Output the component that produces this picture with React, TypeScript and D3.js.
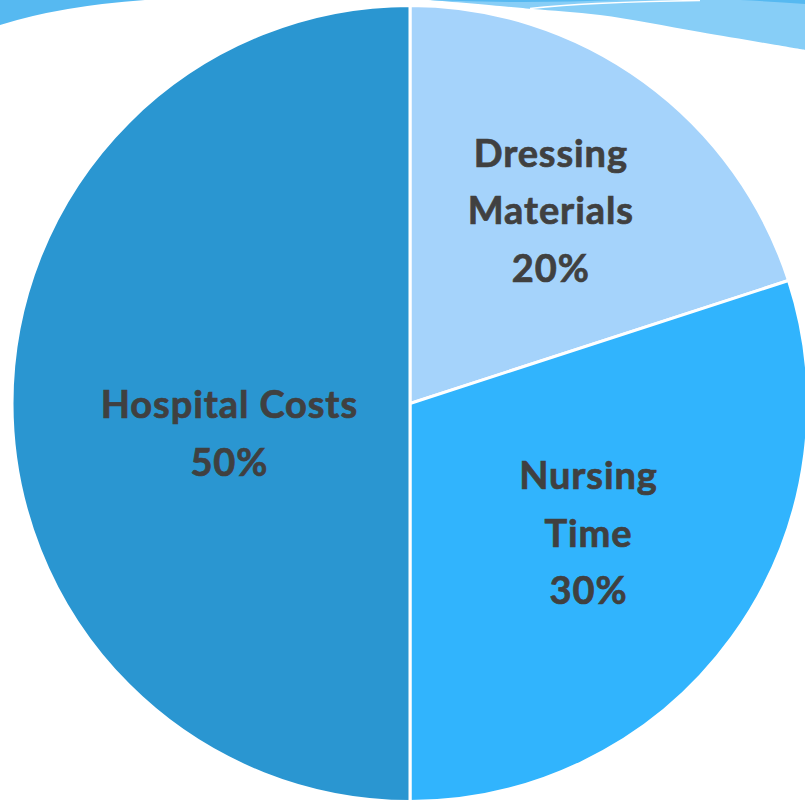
import React from "react";
import * as d3 from "d3";

const categories = ["Dressing Materials", "Nursing Time", "Hospital Costs"];
const labelLines = [["Dressing", "Materials"], ["Nursing", "Time"], ["Hospital Costs"]];
const values = [20, 30, 50];

const colors = ["#A5D3FB", "#31B4FD", "#2A96D1"];
// radial placement factor and vertical nudge for each label (layout only)
const labelRadius = [0.6, 0.553, 0.455];
const labelNudgeY = [0, 0, 30];

const W = 805;
const H = 802;
const CX = 410;
const CY = 403.5;
const R = 398;
const FONT = 38;
const LINE = 57.5;
const SPACING = 0.9;

export default function App() {
  const pie = d3.pie<number>().sort(null).startAngle(0).endAngle(2 * Math.PI);
  const arcs = pie(values);
  const arc = d3.arc<d3.PieArcDatum<number>>().innerRadius(0).outerRadius(R);
  const total = d3.sum(values);

  const lowerEdge: [number, number][] = [
    [430, 0], [500, 6], [533, 9], [600, 15], [700, 32], [805, 50],
  ];
  const lowerPath = d3.line().curve(d3.curveCatmullRom)(lowerEdge) as string;

  return (
    <svg width={W} height={H} style={{ position: "absolute", left: 0, top: 0 }}>
      <rect width={W} height={H} fill="#fff" />
      <path d="M0,0 L145,0 Q60,6 0,25 Z" fill="#56B9F1" />
      <path d={`${lowerPath} L805,0 L430,0 Z`} fill="#87CEF7" />
      <path d="M428,0 L620,0 Q520,4 428,0 Z" fill="#56B9F1" />
      <path d="M740,0 L805,0 L805,4 Q770,1.5 740,0 Z" fill="#56B9F1" />
      <path d="M530,8.5 Q590,2 700,0.5" fill="none" stroke="#fff" strokeWidth={1.5} />
      <g transform={`translate(${CX},${CY})`}>
        {arcs.map((a, i) => (
          <path key={categories[i]} d={arc(a) as string} fill={colors[i]} stroke="#fff" strokeWidth={3} />
        ))}
        {arcs.map((a, i) => {
          const mid = (a.startAngle + a.endAngle) / 2;
          const r = R * labelRadius[i];
          const x = Math.sin(mid) * r + SPACING / 2;
          const y = -Math.cos(mid) * r + labelNudgeY[i];
          const lines = [...labelLines[i], `${Math.round((values[i] / total) * 100)}%`];
          const n = lines.length;
          const top = y - ((n - 1) * LINE) / 2 + FONT * 0.36;
          return (
            <text
              key={"l" + i}
              textAnchor="middle"
              fontFamily="Lato, 'Open Sans', sans-serif"
              fontWeight={700}
              fontSize={FONT}
              letterSpacing={SPACING}
              fill="#404040"
              stroke="#404040"
              strokeWidth={0.7}
            >
              {lines.map((t, j) => (
                <tspan key={j} x={x} y={top + j * LINE}>
                  {t}
                </tspan>
              ))}
            </text>
          );
        })}
      </g>
    </svg>
  );
}
